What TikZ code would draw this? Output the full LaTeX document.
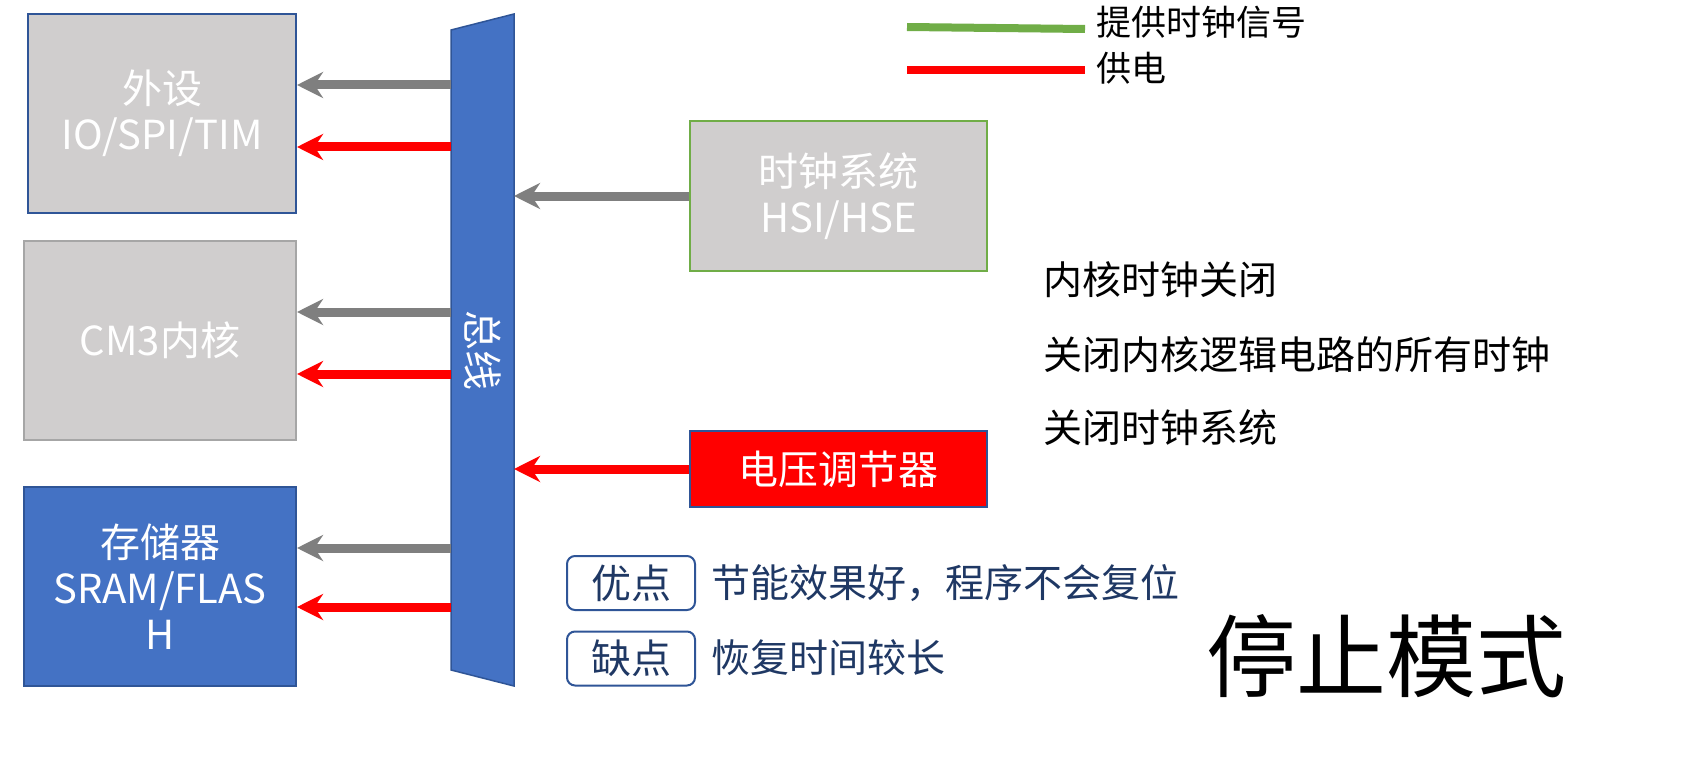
\documentclass[tikz,border=0pt]{standalone}
\usepackage{fontspec}
\setmainfont{Noto Sans CJK SC}
\usetikzlibrary{arrows.meta}
\definecolor{boxgray}{HTML}{D0CECE}
\definecolor{bblue}{HTML}{4472C4}
\definecolor{dblue}{HTML}{2F5597}
\definecolor{navy}{HTML}{1F3864}
\definecolor{lgreen}{HTML}{70AD47}
\definecolor{agray}{HTML}{7F7F7F}
\begin{document}
\begin{tikzpicture}[x=1pt,y=-1pt,
  box/.style={draw,line width=2,minimum width=#1,align=center,text=white,font=\fontsize{40}{46}\selectfont,inner sep=0},
  garrow/.style={-{Stealth[length=26,width=26]},line width=9,draw=agray},
  rarrow/.style={-{Stealth[length=26,width=26]},line width=9,draw=red},
  side/.style={anchor=west,font=\fontsize{39}{46}\selectfont},
  tag/.style={draw=dblue,line width=2,rounded corners=8,minimum width=128,minimum height=54,text=navy,font=\fontsize{40}{46}\selectfont,inner sep=0},
  note/.style={anchor=west,text=navy,font=\fontsize{39}{46}\selectfont}]
\useasboundingbox (0,0) rectangle (1703,765);
\node[box=268,minimum height=199,fill=boxgray,draw=dblue] (per) at (162,113.5) {外设\\IO/SPI/TIM};
\node[box=272,minimum height=199,fill=boxgray,draw=gray!70] (core) at (160,340.5) {CM3内核};
\node[box=272,minimum height=199,fill=bblue,draw=dblue] (mem) at (160,586.5) {存储器\\SRAM/FLAS\\H};
\draw[fill=bblue,draw=dblue,line width=1.5] (451,30) -- (514,14) -- (514,686) -- (451,670) -- cycle;
\node[rotate=-90,text=white,font=\fontsize{40}{46}\selectfont] (bus) at (483,350) {总线};
\coordinate (bl) at (451,0); \coordinate (br) at (514,0);
\node[box=297,minimum height=150,fill=boxgray,draw=lgreen] (clk) at (838.5,196) {时钟系统\\HSI/HSE};
\node[box=297,minimum height=76,fill=red,draw=dblue] (vr) at (838.5,469) {电压调节器};
\foreach \y/\s in {85/garrow,147/rarrow,312/garrow,374/rarrow,548/garrow,607/rarrow}
  \draw[\s] (bl|-0,\y) -- (per.east|-0,\y);
\draw[garrow] (clk.west|-0,196) -- (br|-0,196);
\draw[rarrow] (vr.west) -- (br|-vr.west);
\coordinate (g1) at (907,27); \coordinate (g2) at (1085,29);
\coordinate (r1) at (907,70); \coordinate (r2) at (1085,70);
\draw[lgreen,line width=8] (g1) -- (g2);
\draw[red,line width=8] (r1) -- (r2);
\node[side,font=\fontsize{35}{40}\selectfont] (lg) at (1093,22) {提供时钟信号};
\node[side,font=\fontsize{35}{40}\selectfont] (lr) at (1093,68) {供电};
\node[side] (t1) at (1040,280) {内核时钟关闭};
\node[side] (t2) at (1040,355) {关闭内核逻辑电路的所有时钟};
\node[side] (t3) at (1040,428) {关闭时钟系统};
\node[tag] (adv) at (631,583) {优点};
\node[tag] (dis) at (631,658.5) {缺点};
\node[note] (advt) at (708,583) {节能效果好，程序不会复位};
\node[note] (dist) at (708,658) {恢复时间较长};
\node[anchor=center,font=\fontsize{90}{96}\selectfont] (title) at (1386,656) {停止模式};
\end{tikzpicture}
\end{document}
